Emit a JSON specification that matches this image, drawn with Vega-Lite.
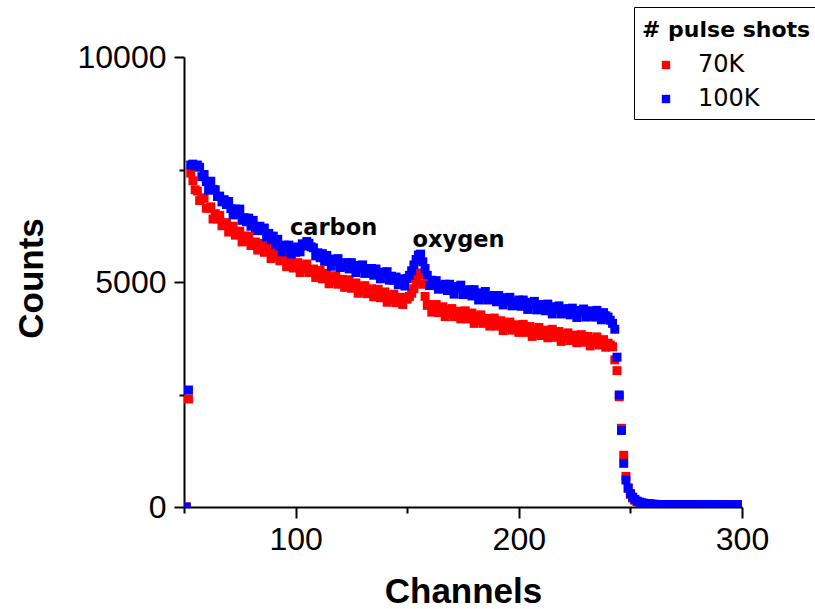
{
 "$schema": "https://vega.github.io/schema/vega-lite/v6.json",
 "width": 558, "height": 450,
 "autosize": {"type": "none"},
 "padding": {"left": 184, "top": 57, "right": 73, "bottom": 102},
 "background": "white",
 "config": {"view": {"stroke": null}, "font": "Liberation Sans"},
 "layer": [
  {
   "data": {"values": [
{"c":51,"70K":0,"100K":0},{"c":52,"70K":2400,"100K":2600},{"c":53,"70K":7420,"100K":7600},{"c":54,"70K":7250,"100K":7620},{"c":55,"70K":7050,"100K":7580},{"c":56,"70K":7020,"100K":7600},{"c":57,"70K":6810,"100K":7550},{"c":58,"70K":6870,"100K":7340},{"c":59,"70K":6860,"100K":7390},{"c":60,"70K":6640,"100K":7230},
{"c":61,"70K":6640,"100K":7040},{"c":62,"70K":6670,"100K":7240},{"c":63,"70K":6400,"100K":7060},{"c":64,"70K":6520,"100K":7050},{"c":65,"70K":6400,"100K":6900},{"c":66,"70K":6480,"100K":6910},{"c":67,"70K":6250,"100K":6780},{"c":68,"70K":6280,"100K":6830},{"c":69,"70K":6320,"100K":6720},{"c":70,"70K":6110,"100K":6790},
{"c":71,"70K":6180,"100K":6630},{"c":72,"70K":6240,"100K":6490},{"c":73,"70K":6040,"100K":6620},{"c":74,"70K":6060,"100K":6510},{"c":75,"70K":6130,"100K":6620},{"c":76,"70K":5890,"100K":6370},{"c":77,"70K":6020,"100K":6430},{"c":78,"70K":5930,"100K":6340},{"c":79,"70K":6020,"100K":6420},{"c":80,"70K":5810,"100K":6240},
{"c":81,"70K":5860,"100K":6370},{"c":82,"70K":5890,"100K":6210},{"c":83,"70K":5710,"100K":6140},{"c":84,"70K":5800,"100K":6240},{"c":85,"70K":5860,"100K":6160},{"c":86,"70K":5660,"100K":6200},{"c":87,"70K":5690,"100K":6000},{"c":88,"70K":5760,"100K":6080},{"c":89,"70K":5520,"100K":5940},{"c":90,"70K":5650,"100K":6020},
{"c":91,"70K":5550,"100K":5840},{"c":92,"70K":5660,"100K":5950},{"c":93,"70K":5470,"100K":5800},{"c":94,"70K":5510,"100K":5670},{"c":95,"70K":5530,"100K":5820},{"c":96,"70K":5340,"100K":5750},{"c":97,"70K":5420,"100K":5820},{"c":98,"70K":5490,"100K":5620},{"c":99,"70K":5310,"100K":5750},{"c":100,"70K":5350,"100K":5660},
{"c":101,"70K":5430,"100K":5780},{"c":102,"70K":5210,"100K":5670},{"c":103,"70K":5370,"100K":5850},{"c":104,"70K":5290,"100K":5800},{"c":105,"70K":5400,"100K":5900},{"c":106,"70K":5210,"100K":5860},{"c":107,"70K":5260,"100K":5780},{"c":108,"70K":5290,"100K":5760},{"c":109,"70K":5100,"100K":5580},{"c":110,"70K":5180,"100K":5650},
{"c":111,"70K":5260,"100K":5540},{"c":112,"70K":5070,"100K":5630},{"c":113,"70K":5100,"100K":5460},{"c":114,"70K":5190,"100K":5590},{"c":115,"70K":4960,"100K":5460},{"c":116,"70K":5110,"100K":5350},{"c":117,"70K":5020,"100K":5510},{"c":118,"70K":5140,"100K":5450},{"c":119,"70K":4950,"100K":5520},{"c":120,"70K":5010,"100K":5320},
{"c":121,"70K":5060,"100K":5420},{"c":122,"70K":4880,"100K":5340},{"c":123,"70K":4980,"100K":5430},{"c":124,"70K":5050,"100K":5290},{"c":125,"70K":4860,"100K":5430},{"c":126,"70K":4890,"100K":5310},{"c":127,"70K":4980,"100K":5210},{"c":128,"70K":4750,"100K":5370},{"c":129,"70K":4900,"100K":5300},{"c":130,"70K":4810,"100K":5380},
{"c":131,"70K":4920,"100K":5190},{"c":132,"70K":4740,"100K":5290},{"c":133,"70K":4800,"100K":5200},{"c":134,"70K":4850,"100K":5300},{"c":135,"70K":4670,"100K":5150},{"c":136,"70K":4760,"100K":5290},{"c":137,"70K":4840,"100K":5170},{"c":138,"70K":4650,"100K":5070},{"c":139,"70K":4690,"100K":5220},{"c":140,"70K":4780,"100K":5160},
{"c":141,"70K":4550,"100K":5230},{"c":142,"70K":4700,"100K":5040},{"c":143,"70K":4610,"100K":5130},{"c":144,"70K":4730,"100K":5040},{"c":145,"70K":4540,"100K":5110},{"c":146,"70K":4610,"100K":4940},{"c":147,"70K":4660,"100K":5070},{"c":148,"70K":4500,"100K":4970},{"c":149,"70K":4620,"100K":4910},{"c":150,"70K":4620,"100K":5080},
{"c":151,"70K":4680,"100K":5150},{"c":152,"70K":4750,"100K":5250},{"c":153,"70K":4850,"100K":5380},{"c":154,"70K":4980,"100K":5500},{"c":155,"70K":5150,"100K":5600},{"c":156,"70K":5200,"100K":5620},{"c":157,"70K":4950,"100K":5450},{"c":158,"70K":4680,"100K":5300},{"c":159,"70K":4480,"100K":5150},{"c":160,"70K":4500,"100K":4920},
{"c":161,"70K":4330,"100K":5040},{"c":162,"70K":4420,"100K":4960},{"c":163,"70K":4500,"100K":5030},{"c":164,"70K":4320,"100K":4840},{"c":165,"70K":4360,"100K":4930},{"c":166,"70K":4450,"100K":4850},{"c":167,"70K":4230,"100K":4950},{"c":168,"70K":4380,"100K":4810},{"c":169,"70K":4290,"100K":4950},{"c":170,"70K":4410,"100K":4830},
{"c":171,"70K":4230,"100K":4730},{"c":172,"70K":4300,"100K":4900},{"c":173,"70K":4350,"100K":4860},{"c":174,"70K":4180,"100K":4930},{"c":175,"70K":4280,"100K":4720},{"c":176,"70K":4360,"100K":4810},{"c":177,"70K":4180,"100K":4730},{"c":178,"70K":4220,"100K":4830},{"c":179,"70K":4310,"100K":4690},{"c":180,"70K":4080,"100K":4830},
{"c":181,"70K":4230,"100K":4700},{"c":182,"70K":4150,"100K":4600},{"c":183,"70K":4270,"100K":4760},{"c":184,"70K":4080,"100K":4710},{"c":185,"70K":4150,"100K":4790},{"c":186,"70K":4190,"100K":4600},{"c":187,"70K":4020,"100K":4690},{"c":188,"70K":4120,"100K":4610},{"c":189,"70K":4200,"100K":4700},{"c":190,"70K":4020,"100K":4560},
{"c":191,"70K":4050,"100K":4700},{"c":192,"70K":4140,"100K":4580},{"c":193,"70K":3920,"100K":4490},{"c":194,"70K":4070,"100K":4650},{"c":195,"70K":3990,"100K":4580},{"c":196,"70K":4110,"100K":4660},{"c":197,"70K":3930,"100K":4470},{"c":198,"70K":4000,"100K":4570},{"c":199,"70K":4050,"100K":4490},{"c":200,"70K":3880,"100K":4600},
{"c":201,"70K":3980,"100K":4460},{"c":202,"70K":4060,"100K":4600},{"c":203,"70K":3880,"100K":4480},{"c":204,"70K":3920,"100K":4390},{"c":205,"70K":4010,"100K":4550},{"c":206,"70K":3790,"100K":4490},{"c":207,"70K":3940,"100K":4570},{"c":208,"70K":3860,"100K":4380},{"c":209,"70K":3990,"100K":4480},{"c":210,"70K":3810,"100K":4400},
{"c":211,"70K":3880,"100K":4500},{"c":212,"70K":3930,"100K":4360},{"c":213,"70K":3760,"100K":4510},{"c":214,"70K":3860,"100K":4390},{"c":215,"70K":3950,"100K":4290},{"c":216,"70K":3770,"100K":4450},{"c":217,"70K":3810,"100K":4390},{"c":218,"70K":3900,"100K":4470},{"c":219,"70K":3680,"100K":4290},{"c":220,"70K":3830,"100K":4390},
{"c":221,"70K":3750,"100K":4310},{"c":222,"70K":3870,"100K":4410},{"c":223,"70K":3700,"100K":4270},{"c":224,"70K":3770,"100K":4420},{"c":225,"70K":3820,"100K":4300},{"c":226,"70K":3650,"100K":4210},{"c":227,"70K":3750,"100K":4370},{"c":228,"70K":3830,"100K":4320},{"c":229,"70K":3660,"100K":4400},{"c":230,"70K":3700,"100K":4220},
{"c":231,"70K":3790,"100K":4330},{"c":232,"70K":3580,"100K":4250},{"c":233,"70K":3730,"100K":4360},{"c":234,"70K":3660,"100K":4220},{"c":235,"70K":3780,"100K":4370},{"c":236,"70K":3600,"100K":4250},{"c":237,"70K":3670,"100K":4160},{"c":238,"70K":3720,"100K":4320},{"c":239,"70K":3550,"100K":4250},{"c":240,"70K":3640,"100K":4220},
{"c":241,"70K":3600,"100K":4150},{"c":242,"70K":3560,"100K":4080},{"c":243,"70K":3270,"100K":3950},{"c":244,"70K":3030,"100K":3330},{"c":245,"70K":2450,"100K":2490},{"c":246,"70K":1750,"100K":1700},{"c":247,"70K":1150,"100K":970},{"c":248,"70K":680,"100K":600},{"c":249,"70K":420,"100K":420},{"c":250,"70K":280,"100K":300},
{"c":251,"70K":200,"100K":220},{"c":252,"70K":150,"100K":170},{"c":253,"70K":120,"100K":130},{"c":254,"70K":100,"100K":110},{"c":255,"70K":90,"100K":95},{"c":256,"70K":80,"100K":85},{"c":257,"70K":75,"100K":75},{"c":258,"70K":70,"100K":70},{"c":259,"70K":65,"100K":65},{"c":260,"70K":60,"100K":60},
{"c":261,"70K":58,"100K":58},{"c":262,"70K":57,"100K":57},{"c":263,"70K":56,"100K":56},{"c":264,"70K":55,"100K":55},{"c":265,"70K":55,"100K":55},{"c":266,"70K":54,"100K":54},{"c":267,"70K":54,"100K":54},{"c":268,"70K":53,"100K":53},{"c":269,"70K":53,"100K":53},{"c":270,"70K":52,"100K":52},
{"c":271,"70K":52,"100K":52},{"c":272,"70K":51,"100K":51},{"c":273,"70K":51,"100K":51},{"c":274,"70K":50,"100K":50},{"c":275,"70K":50,"100K":50},{"c":276,"70K":50,"100K":50},{"c":277,"70K":49,"100K":49},{"c":278,"70K":49,"100K":49},{"c":279,"70K":49,"100K":49},{"c":280,"70K":48,"100K":48},
{"c":281,"70K":48,"100K":48},{"c":282,"70K":48,"100K":48},{"c":283,"70K":47,"100K":47},{"c":284,"70K":47,"100K":47},{"c":285,"70K":47,"100K":47},{"c":286,"70K":46,"100K":46},{"c":287,"70K":46,"100K":46},{"c":288,"70K":46,"100K":46},{"c":289,"70K":46,"100K":46},{"c":290,"70K":45,"100K":45},
{"c":291,"70K":45,"100K":45},{"c":292,"70K":45,"100K":45},{"c":293,"70K":45,"100K":45},{"c":294,"70K":44,"100K":44},{"c":295,"70K":44,"100K":44},{"c":296,"70K":44,"100K":44},{"c":297,"70K":44,"100K":44},{"c":298,"70K":43,"100K":43},{"c":299,"70K":43,"100K":43},{"c":300,"70K":43,"100K":43}
   ]},
   "transform": [{"fold": ["70K", "100K"], "as": ["series", "count"]}],
   "mark": {"type": "square", "size": 80, "opacity": 1, "clip": true},
   "encoding": {
    "x": {"field": "c", "type": "quantitative",
     "scale": {"domain": [50, 300], "nice": false, "zero": false},
     "axis": {"values": [50, 100, 150, 200, 250, 300], "format": "d",
      "labelExpr": "datum.value % 100 === 0 ? datum.label : ''",
      "tickSize": {"condition": {"test": "datum.value % 100 === 0", "value": 11}, "value": 6},
      "title": "Channels", "titleFontSize": 35, "titleFontWeight": "bold", "titleColor": "black",
      "titleX": 279, "titleY": 95, "titleBaseline": "alphabetic",
      "labelFontSize": 32, "labelColor": "black", "labelPadding": 6, "labelFlush": false, "labelOverlap": false,
      "tickColor": "black", "tickWidth": 2, "domainColor": "black", "domainWidth": 2, "grid": false}},
    "y": {"field": "count", "type": "quantitative",
     "scale": {"domain": [0, 10000], "nice": false},
     "axis": {"values": [0, 2500, 5000, 7500, 10000], "format": "d",
      "labelExpr": "datum.value % 5000 === 0 ? datum.label : ''",
      "tickSize": {"condition": {"test": "datum.value % 5000 === 0", "value": 10}, "value": 5},
      "title": "Counts", "titleFontSize": 35, "titleFontWeight": "bold", "titleColor": "black",
      "titleX": -142, "titleY": 221, "titleBaseline": "alphabetic",
      "labelFontSize": 32, "labelColor": "black", "labelPadding": 8, "labelFlush": false, "labelOverlap": false,
      "tickColor": "black", "tickWidth": 2, "domainColor": "black", "domainWidth": 2, "grid": false}},
    "color": {"field": "series", "type": "nominal",
     "scale": {"domain": ["70K", "100K"], "range": ["#ff0000", "#0000ff"]},
     "legend": {"orient": "none", "legendX": 450, "legendY": -50, "title": "# pulse shots",
      "titleFont": "DejaVu Sans", "titleFontSize": 22, "titleFontWeight": "bold", "titleColor": "black", "titleAnchor": "start",
      "titleBaseline": "line-top", "titleLineHeight": 31,
      "titlePadding": 16, "labelFont": "DejaVu Sans", "labelFontSize": 24, "labelColor": "black",
      "symbolType": "square", "symbolSize": 70, "symbolOffset": 12, "labelOffset": 20, "symbolStrokeWidth": 0,
      "padding": 8, "rowPadding": 10, "strokeColor": "black", "fillColor": "white"}},
    "order": {"field": "series", "sort": "descending"}
   }
  },
  {
   "data": {"values": [{"label": "carbon", "c": 117, "n": 6050}, {"label": "oxygen", "c": 173, "n": 5770}]},
   "mark": {"type": "text", "font": "DejaVu Sans", "fontWeight": "bold", "fontSize": 22.5, "align": "center", "baseline": "alphabetic", "color": "black"},
   "encoding": {
    "x": {"field": "c", "type": "quantitative"},
    "y": {"field": "n", "type": "quantitative"},
    "text": {"field": "label"}
   }
  }
 ]
}
